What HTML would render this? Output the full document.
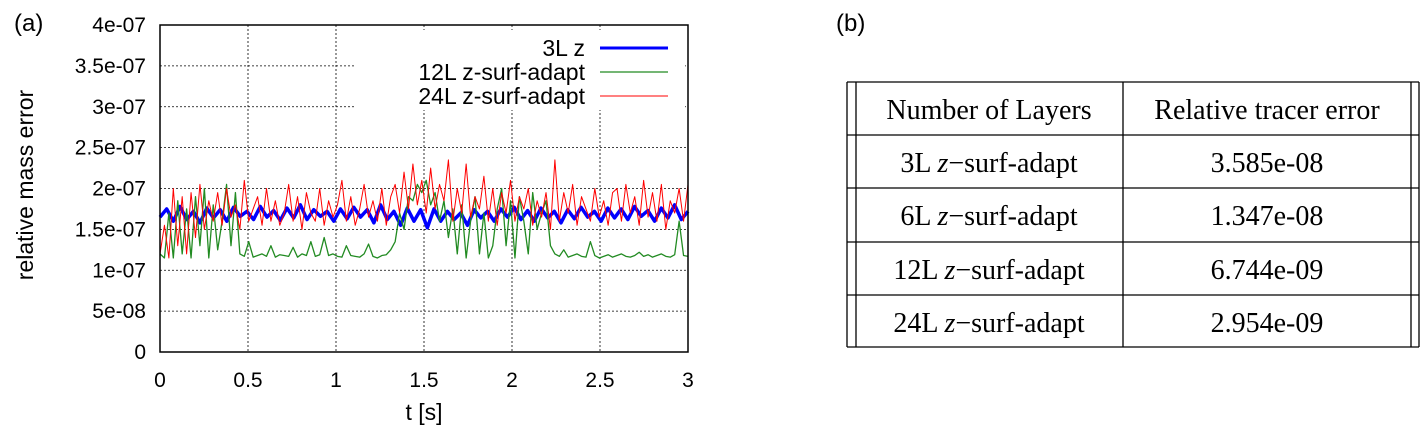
<!DOCTYPE html>
<html><head><meta charset="utf-8"><style>
body{margin:0;background:#fff;width:1425px;height:436px;overflow:hidden;font-family:"Liberation Sans",sans-serif}
#chart{position:absolute;left:0;top:0}
.lbl{position:absolute;font-size:24px}
</style></head><body>
<svg id="chart" width="720" height="436" font-family="Liberation Sans, sans-serif"></svg>
<div class="lbl" style="left:14px;top:10px">(a)</div>
<div class="lbl" style="left:836px;top:10px">(b)</div>
<svg width="1425" height="436" style="position:absolute;left:0;top:0" font-family="Liberation Serif, serif" font-size="28">
<g stroke="#000" stroke-width="1.3" fill="none">
<line x1="847" y1="82" x2="1419" y2="82"/><line x1="847" y1="135" x2="1419" y2="135"/>
<line x1="847" y1="188" x2="1419" y2="188"/><line x1="847" y1="242" x2="1419" y2="242"/>
<line x1="847" y1="295" x2="1419" y2="295"/><line x1="847" y1="347" x2="1419" y2="347"/>
<line x1="847" y1="82" x2="847" y2="347"/><line x1="856" y1="82" x2="856" y2="347"/>
<line x1="1123" y1="82" x2="1123" y2="347"/><line x1="1411" y1="82" x2="1411" y2="347"/>
<line x1="1419" y1="82" x2="1419" y2="347"/></g>
<g text-anchor="middle">
<text x="989" y="119">Number of Layers</text>
<text x="1267" y="119">Relative tracer error</text>
<text x="989" y="172">3L <tspan font-style="italic">z</tspan>−surf-adapt</text>
<text x="1267" y="172">3.585e-08</text>
<text x="989" y="225">6L <tspan font-style="italic">z</tspan>−surf-adapt</text>
<text x="1267" y="225">1.347e-08</text>
<text x="989" y="279">12L <tspan font-style="italic">z</tspan>−surf-adapt</text>
<text x="1267" y="279">6.744e-09</text>
<text x="989" y="332">24L <tspan font-style="italic">z</tspan>−surf-adapt</text>
<text x="1267" y="332">2.954e-09</text>
</g></svg>
<script>
const xTicks=[0,0.5,1,1.5,2,2.5,3];
const xTickLabels=["0","0.5","1","1.5","2","2.5","3"];
const yTicks=[0,0.5,1,1.5,2,2.5,3,3.5,4];
const yTickLabels=["0","5e-08","1e-07","1.5e-07","2e-07","2.5e-07","3e-07","3.5e-07","4e-07"];
const blue=[1.65,1.75,1.6,1.78,1.62,1.72,1.58,1.76,1.64,1.74,1.6,1.77,1.66,1.72,1.62,1.78,1.65,1.73,1.61,1.76,1.64,1.8,1.62,1.74,1.66,1.72,1.6,1.75,1.63,1.77,1.65,1.74,1.58,1.8,1.62,1.72,1.55,1.76,1.6,1.74,1.52,1.75,1.6,1.72,1.62,1.7,1.55,1.74,1.64,1.72,1.6,1.75,1.65,1.77,1.62,1.73,1.6,1.76,1.64,1.72,1.58,1.74,1.63,1.77,1.65,1.72,1.6,1.76,1.64,1.75,1.62,1.78,1.66,1.73,1.6,1.76,1.64,1.8,1.62,1.72];
const green=[1.2,1.15,1.7,1.15,1.85,1.2,1.75,1.15,1.9,1.3,2.0,1.15,1.8,1.25,1.6,2.05,1.3,1.95,
1.2,1.17,1.35,1.16,1.18,1.2,1.17,1.3,1.16,1.19,1.18,1.17,1.28,1.16,1.2,1.18,1.35,1.17,1.19,1.4,1.18,1.2,1.17,1.16,1.3,1.18,1.17,1.16,1.2,1.32,1.17,1.15,1.18,1.19,1.25,1.35,
1.7,1.5,1.9,1.85,2.05,1.95,2.1,1.8,1.95,1.6,1.85,1.4,1.75,1.2,1.8,1.15,1.6,1.9,1.2,1.7,1.15,1.3,
1.75,2.0,1.3,1.85,1.15,1.9,1.6,1.2,1.95,1.5,1.7,1.85,
1.3,1.2,1.17,1.25,1.16,1.18,1.2,1.17,1.16,1.35,1.18,1.15,1.17,1.19,1.16,1.18,1.2,1.17,1.16,1.18,1.22,1.17,1.19,1.16,1.18,1.2,1.17,1.16,1.19,1.6,1.18,1.17];
const red=[1.2,1.55,1.15,2.0,1.3,1.9,1.2,1.95,1.4,2.05,1.5,1.85,1.6,1.95,1.55,2.0,1.65,1.8,1.5,2.1,1.6,1.75,1.9,1.55,2.0,1.6,1.85,1.55,1.7,2.05,1.6,1.9,1.5,1.95,1.7,1.6,2.0,1.55,1.85,1.65,1.8,2.1,1.6,1.9,1.55,1.75,2.05,1.65,1.85,1.6,2.0,1.55,1.9,2.05,1.7,2.2,1.75,2.3,1.8,2.1,1.7,2.25,1.75,2.05,1.85,2.35,1.6,2.0,1.7,2.3,1.65,1.9,1.75,2.15,1.6,2.0,1.55,1.95,1.7,2.1,1.6,1.9,1.75,2.0,1.55,1.85,1.65,1.95,1.5,2.35,1.6,1.95,1.7,2.05,1.55,1.9,1.75,1.6,2.0,1.65,1.85,1.55,1.95,2.0,1.6,2.05,1.7,1.9,1.55,2.1,1.65,1.95,1.6,2.05,1.5,1.85,1.7,2.0,1.6,2.05];
const svg=document.getElementById('chart');const NS='http://www.w3.org/2000/svg';
const L=160,R=688,T=25,B=352;
const xs=v=>L+(v-0)/3*(R-L);const ys=v=>B-v/4*(B-T);
function mk(tag,attrs,parent){const e=document.createElementNS(NS,tag);for(const k in attrs)e.setAttribute(k,attrs[k]);(parent||svg).appendChild(e);return e;}
xTicks.forEach((v,i)=>{
 if(i>0&&i<xTicks.length-1){const g=mk('line',{x1:xs(v),x2:xs(v),y1:T,y2:B,stroke:'#000','stroke-width':0.8,'stroke-dasharray':'2,2'});
 
 }
 const t=mk('text',{x:xs(v),y:B+35,'text-anchor':'middle','font-size':21});t.textContent=xTickLabels[i];
 
 
});
yTicks.forEach((v,i)=>{
 if(i>0&&i<yTicks.length-1){const g=mk('line',{x1:L,x2:R,y1:ys(v),y2:ys(v),stroke:'#000','stroke-width':0.8,'stroke-dasharray':'2,2'});
 
 }
 const t=mk('text',{x:146,y:ys(v)+7,'text-anchor':'end','font-size':21});t.textContent=yTickLabels[i];
 
 
});
function series(arr,color,w,name){const pts=arr.map((v,i)=>xs(i*3/(arr.length-1))+','+ys(v)).join(' ');
 const p=mk('polyline',{points:pts,fill:'none',stroke:color,'stroke-width':w,'stroke-linejoin':'round'});
 
 }
series(blue,'#0000ff',3.5,'series-3l-z');
series(green,'#228b22',1.3,'series-12l');
series(red,'#ff0000',1,'series-24l');
const lb=mk('rect',{x:355,y:30,width:330,height:80,fill:'#fff'});


const leg=[['3L z','#0000ff',3],['12L z-surf-adapt','#228b22',1.3],['24L z-surf-adapt','#ff0000',1]];
leg.forEach((d,i)=>{const y=48+i*24;
 const t=mk('text',{x:585,y:y+8,'text-anchor':'end','font-size':23});t.textContent=d[0];
 
 
 const l=mk('line',{x1:600,x2:668,y1:y,y2:y,stroke:d[1],'stroke-width':d[2]});
 
 });
const fr=mk('rect',{x:L,y:T,width:R-L,height:B-T,fill:'none',stroke:'#000','stroke-width':1.5});


const xt=mk('text',{x:(L+R)/2,y:420,'text-anchor':'middle','font-size':23});xt.textContent='t [s]';


const yt=mk('text',{x:0,y:0,'text-anchor':'middle','font-size':23,transform:'translate(33,185) rotate(-90)'});yt.textContent='relative mass error';


</script>
</body></html>
